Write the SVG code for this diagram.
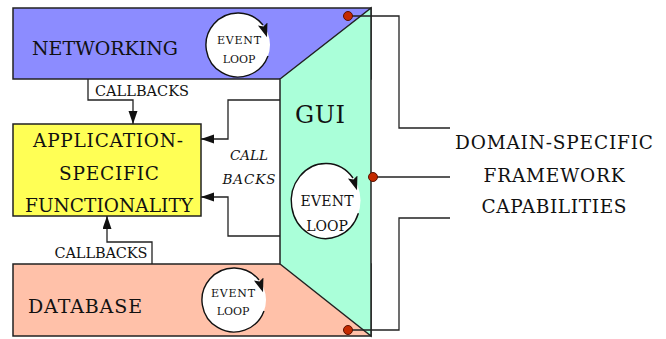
<svg xmlns="http://www.w3.org/2000/svg" width="666" height="339" viewBox="0 0 666 339">
<defs>
<style>
text{font-family:"DejaVu Serif","Liberation Serif",serif;fill:#111;text-anchor:middle}
.box{stroke:#222;stroke-width:1.5;stroke-linejoin:miter}
.wire{fill:none;stroke:#222;stroke-width:1.3}
.loopbg{fill:#fff;stroke:none}
.loop{fill:none;stroke:#111;stroke-width:1.4}
.dot{fill:#c42a00;stroke:#5a1000;stroke-width:1}
.big{font-size:19px}
.app{font-size:18.5px}
.cb{font-size:14.5px}
.it{font-size:13.5px;font-style:italic}
.right{font-size:18.5px}
</style>
<marker id="ah" markerUnits="userSpaceOnUse" markerWidth="14" markerHeight="10" refX="13" refY="4.5" orient="auto">
<path d="M0,0 L13,4.5 L0,9 z" fill="#111"/>
</marker>
<marker id="lh" markerUnits="userSpaceOnUse" markerWidth="15" markerHeight="12" refX="1" refY="5" orient="72">
<path d="M0,0 L14,5 L0,10 L2.5,5 z" fill="#111"/>
</marker>
</defs>

<g id="networking">
<rect class="box" x="13" y="8" width="358" height="71" fill="#8c8cff"/>
<text class="big" x="105" y="55" textLength="146">NETWORKING</text>
</g>

<g id="database">
<rect class="box" x="13" y="264" width="358" height="72" fill="#ffc1a9"/>
<text class="big" x="85" y="313" textLength="114">DATABASE</text>
</g>

<g id="gui">
<polygon class="box" points="371,8 371,336 280,264 280,79" fill="#aaffd9"/>
<text x="320" y="123" style="font-size:24px" textLength="50">GUI</text>
</g>

<g id="app">
<rect class="box" x="13" y="124" width="188" height="92" fill="#ffff55"/>
<text class="app" x="108" y="147" textLength="150">APPLICATION-</text>
<text class="app" x="109" y="180" textLength="100">SPECIFIC</text>
<text class="app" x="109" y="212" textLength="168">FUNCTIONALITY</text>
</g>

<g id="loop-networking">
<ellipse class="loopbg" cx="238" cy="45" rx="32" ry="32"/>
<path class="loop" d="M268,56 A32,32 0 1 1 263,25" marker-end="url(#lh)"/>
<text x="239" y="44" style="font-size:11px" textLength="44">EVENT</text>
<text x="239" y="63" style="font-size:11px">LOOP</text>
</g>

<g id="loop-gui">
<ellipse class="loopbg" cx="326" cy="200.5" rx="34.5" ry="37.5"/>
<path class="loop" d="M358.4,213.3 A34.5,37.5 0 1 1 353,178" marker-end="url(#lh)"/>
<text x="327" y="206" style="font-size:14px" textLength="53">EVENT</text>
<text x="327" y="231" style="font-size:14px">LOOP</text>
</g>

<g id="loop-database">
<ellipse class="loopbg" cx="234" cy="300" rx="32" ry="32"/>
<path class="loop" d="M264,311 A32,32 0 1 1 259,280" marker-end="url(#lh)"/>
<text x="233" y="297" style="font-size:11px" textLength="44">EVENT</text>
<text x="233" y="315" style="font-size:11px">LOOP</text>
</g>

<g id="connectors">
<path class="wire" d="M88,79 V100 H133 V124" marker-end="url(#ah)"/>
<path class="wire" d="M280,100 H228 V139 H201" marker-end="url(#ah)"/>
<path class="wire" d="M280,236 H228 V197 H201" marker-end="url(#ah)"/>
<path class="wire" d="M152,264 V242 H107 V216" marker-end="url(#ah)"/>
<path class="wire" d="M348,16 H399 V128 H450"/>
<path class="wire" d="M373,177 H450"/>
<path class="wire" d="M348,330 H399 V218 H450"/>
<circle class="dot" cx="348" cy="16" r="4.5"/>
<circle class="dot" cx="373" cy="177" r="4.5"/>
<circle class="dot" cx="348" cy="330" r="4.5"/>
<text class="cb" x="142" y="96" textLength="94">CALLBACKS</text>
<text class="cb" x="101" y="258" textLength="93">CALLBACKS</text>
<text class="it" x="249" y="160" textLength="38">CALL</text>
<text class="it" x="249" y="184" textLength="53">BACKS</text>
</g>

<g id="capabilities">
<text class="right" x="554" y="149" textLength="198">DOMAIN-SPECIFIC</text>
<text class="right" x="554" y="182" textLength="141">FRAMEWORK</text>
<text class="right" x="554" y="213" textLength="145">CAPABILITIES</text>
</g>
</svg>
